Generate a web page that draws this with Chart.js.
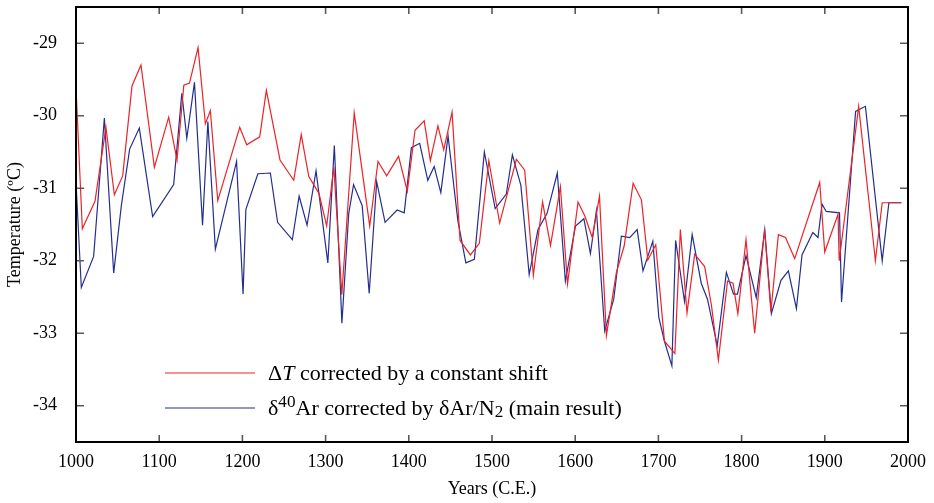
<!DOCTYPE html>
<html>
<head>
<meta charset="utf-8">
<script src="https://cdn.jsdelivr.net/npm/chart.js"></script>
<style>
  body { margin: 0; background: #fff; }
</style>
</head>
<body>
<canvas id="tempChart" width="934" height="503"></canvas>
<script>
// series (years C.E., temperature in ºC)
var redYears = [1000, 1007.6, 1022.8, 1036, 1046.1, 1056.1, 1067.3, 1078.1, 1094.2, 1111.4,
  1121.4, 1129.6, 1136.4, 1146.7, 1155.5, 1161.5, 1170.4, 1196.8, 1205.2, 1220.8,
  1228.8, 1245.2, 1261.7, 1270.7, 1279.8, 1292, 1301.3, 1309.9, 1319.5, 1334.4,
  1353, 1363, 1373.4, 1387.7, 1398.2, 1407.5, 1418.5, 1425.9, 1435, 1442,
  1452, 1461.6, 1474, 1484.8, 1496.2, 1509.2, 1529.3, 1539.3, 1549.7, 1560.8,
  1570.3, 1582.2, 1590.8, 1603.4, 1611.5, 1620.5, 1629.2, 1637.5, 1649.5, 1658.8,
  1669.6, 1679.6, 1687.3, 1696.8, 1707.3, 1719.8, 1726.4, 1734.4, 1743.6, 1755.6,
  1763.7, 1772.1, 1783.1, 1789.7, 1795.5, 1805.3, 1815.7, 1827.6, 1835.2, 1844.2,
  1852.8, 1863.8, 1893.9, 1899.9, 1915.9, 1917.3, 1940.7, 1960.8, 1969, 1991.2];
var redTemps = [-29.61, -31.56, -31.18, -30.16, -31.09, -30.83, -29.59, -29.30, -30.71, -30.02,
  -30.61, -29.58, -29.55, -29.06, -30.11, -29.93, -31.17, -30.16, -30.40, -30.29,
  -29.65, -30.61, -30.89, -30.26, -30.84, -31.07, -31.52, -30.71, -32.47, -29.96,
  -31.52, -30.63, -30.83, -30.56, -31.04, -30.20, -30.07, -30.62, -30.14, -30.47,
  -29.95, -31.72, -31.92, -31.76, -30.62, -31.48, -30.60, -30.75, -32.20, -31.19,
  -31.79, -30.98, -32.32, -31.19, -31.38, -31.68, -31.11, -33.03, -32.16, -31.80,
  -30.93, -31.16, -31.99, -31.78, -33.11, -33.28, -31.57, -32.72, -31.91, -32.08,
  -32.61, -33.37, -32.28, -32.31, -32.73, -31.71, -33.00, -31.57, -32.70, -31.64,
  -31.68, -31.97, -30.92, -31.88, -31.36, -32.00, -29.87, -32.00, -31.20, -31.20];

var blueYears = [1000, 1006.4, 1021.2, 1034.1, 1045.3, 1054.5, 1064.5, 1076.1, 1092.1, 1117.4,
  1127.2, 1133.2, 1142.4, 1152.1, 1158.5, 1167.5, 1193, 1200.8, 1204.2, 1218.6,
  1233.6, 1242.3, 1260, 1268.2, 1277.7, 1288.5, 1302.7, 1310.5, 1319.6, 1327.8,
  1333.6, 1344, 1352.4, 1361.4, 1371.5, 1386, 1394.5, 1403.1, 1413.1, 1422.8,
  1430.5, 1438.5, 1447.2, 1459, 1468.6, 1478.8, 1490.8, 1503.8, 1517.2, 1524.5,
  1534.7, 1544.7, 1555.3, 1566.1, 1578.5, 1588.2, 1600.4, 1610.4, 1618.3, 1625.5,
  1635.5, 1646.3, 1655.5, 1665.5, 1674.5, 1681.5, 1693.3, 1700.5, 1707, 1716.2,
  1720.7, 1731.4, 1740.6, 1751.5, 1759, 1770.7, 1781.7, 1790.3, 1795, 1805.3,
  1817.6, 1827.8, 1835.8, 1847.3, 1856.2, 1865.9, 1872.6, 1885.6, 1891.8, 1896.7,
  1901.7, 1917.7, 1920.1, 1937, 1948.8, 1969, 1977, 1992.3];
var blueTemps = [-30.92, -32.37, -31.94, -30.03, -32.17, -31.24, -30.46, -30.17, -31.39, -30.95,
  -29.69, -30.31, -29.54, -31.51, -30.08, -31.84, -30.63, -32.46, -31.29, -30.80,
  -30.79, -31.47, -31.71, -31.11, -31.51, -30.76, -32.03, -30.41, -32.86, -31.35,
  -30.95, -31.24, -32.45, -30.91, -31.47, -31.30, -31.34, -30.44, -30.38, -30.89,
  -30.70, -31.06, -30.28, -31.45, -32.03, -31.98, -30.50, -31.28, -31.08, -30.54,
  -30.96, -32.19, -31.57, -31.35, -30.79, -32.28, -31.52, -31.42, -31.90, -31.31,
  -32.97, -32.53, -31.66, -31.68, -31.57, -32.14, -31.73, -32.78, -33.10, -33.45,
  -31.72, -32.56, -31.64, -32.31, -32.53, -33.17, -32.16, -32.46, -32.46, -31.93,
  -32.51, -31.57, -32.73, -32.27, -32.14, -32.66, -31.92, -31.61, -31.68, -31.22,
  -31.32, -31.34, -32.57, -29.94, -29.87, -32.00, -31.20, -31.20];

var xTicks = [1000, 1100, 1200, 1300, 1400, 1500, 1600, 1700, 1800, 1900, 2000];
var yTicks = [-34, -33, -32, -31, -30, -29];

// legend text pieces (italic T, superscript 40, subscript 2)
var redLabelParts = [{ t: "Δ" }, { t: "T", italic: true }, { t: " corrected by a constant shift" }];
var blueLabelParts = [{ t: "δ" }, { t: "40", sup: true }, { t: "Ar corrected by δAr/N" }, { t: "2", sub: true }, { t: " (main result)" }];

var serif = "'Liberation Serif', 'Times New Roman', serif";

function toPoints(xs, ys) {
  return xs.map(function (x, i) { return { x: x, y: ys[i] }; });
}

// inward tick marks on all four sides plus the black frame
var frameTicks = {
  id: "frameTicks",
  afterDraw: function (chart) {
    var ctx = chart.ctx, a = chart.chartArea;
    var xs = chart.scales.x, ys = chart.scales.y;
    ctx.save();
    ctx.strokeStyle = "#5a5a5a";
    ctx.lineWidth = 1.6;
    ctx.beginPath();
    xs.ticks.forEach(function (t) {
      var px = xs.getPixelForValue(t.value);
      if (px <= a.left + 2 || px >= a.right - 2) return;
      ctx.moveTo(px, a.bottom); ctx.lineTo(px, a.bottom - 7);
      ctx.moveTo(px, a.top); ctx.lineTo(px, a.top + 7);
    });
    ys.ticks.forEach(function (t) {
      var py = ys.getPixelForValue(t.value);
      ctx.moveTo(a.left, py); ctx.lineTo(a.left + 8, py);
      ctx.moveTo(a.right, py); ctx.lineTo(a.right - 8, py);
    });
    ctx.stroke();
    ctx.strokeStyle = "#000";
    ctx.lineWidth = 2;
    ctx.strokeRect(a.left, a.top, a.right - a.left, a.bottom - a.top);
    ctx.restore();
  }
};

// legend drawn by hand so the labels can carry italic / super / subscripts
var richLegend = {
  id: "richLegend",
  afterDraw: function (chart) {
    var ctx = chart.ctx, a = chart.chartArea;
    var size = 22;
    chart.data.datasets.forEach(function (ds, i) {
      var yy = a.top + 366 + i * 35;
      ctx.save();
      ctx.strokeStyle = ds.borderColor;
      ctx.lineWidth = 1.2;
      ctx.beginPath();
      ctx.moveTo(a.left + 89, yy);
      ctx.lineTo(a.left + 179, yy);
      ctx.stroke();
      ctx.fillStyle = "#000";
      ctx.textBaseline = "alphabetic";
      var x = a.left + 192, base = yy + 7;
      ds.labelParts.forEach(function (p) {
        var fs = size, dy = 0;
        if (p.sup) { fs = size * 0.78; dy = -8; }
        if (p.sub) { fs = size * 0.78; dy = 2; }
        ctx.font = (p.italic ? "italic " : "") + fs + "px " + serif;
        ctx.fillText(p.t, x, base + dy);
        x += ctx.measureText(p.t).width;
      });
      ctx.restore();
    });
  }
};

new Chart(document.getElementById("tempChart"), {
  type: "line",
  data: {
    datasets: [
      {
        label: "ΔT corrected by a constant shift",
        labelParts: redLabelParts,
        data: toPoints(redYears, redTemps),
        borderColor: "rgb(238,34,38)",
        borderWidth: 1.2,
        pointRadius: 0,
        tension: 0,
        fill: false,
      },
      {
        label: "δ⁴⁰Ar corrected by δAr/N₂ (main result)",
        labelParts: blueLabelParts,
        data: toPoints(blueYears, blueTemps),
        borderColor: "rgb(36,46,142)",
        borderWidth: 1.2,
        pointRadius: 0,
        tension: 0,
        fill: false,
      },
    ],
  },
  options: {
    responsive: false,
    animation: false,
    devicePixelRatio: 1,
    layout: { padding: { top: 7, right: 26, left: 0, bottom: 0 } },
    plugins: {
      legend: { display: false },
      tooltip: { enabled: false },
    },
    scales: {
      x: {
        type: "linear",
        min: 1000,
        max: 2000,
        afterBuildTicks: function (s) { s.ticks = xTicks.map(function (v) { return { value: v }; }); },
        afterFit: function (s) { s.height = 61; s.paddingLeft = 0; s.paddingRight = 0; },
        grid: { display: false, drawTicks: false },
        border: { display: false },
        ticks: {
          color: "#000",
          padding: 9,
          maxRotation: 0,
          font: { family: serif, size: 18 },
          callback: function (v) { return String(v); },
        },
        title: {
          display: true,
          text: "Years (C.E.)",
          color: "#000",
          padding: { top: 0, bottom: 3 },
          font: { family: serif, size: 18 },
        },
      },
      y: {
        type: "linear",
        min: -34.5,
        max: -28.5,
        afterBuildTicks: function (s) { s.ticks = yTicks.map(function (v) { return { value: v }; }); },
        afterFit: function (s) { s.width = 76; s.paddingTop = 0; s.paddingBottom = 0; },
        grid: { display: false, drawTicks: false },
        border: { display: false },
        ticks: {
          color: "#000",
          padding: 19,
          font: { family: serif, size: 18 },
          callback: function (v) { return String(v); },
        },
        title: {
          display: true,
          text: "Temperature (ºC)",
          color: "#000",
          padding: { top: 4, bottom: 4 },
          font: { family: serif, size: 18 },
        },
      },
    },
  },
  plugins: [frameTicks, richLegend],
});
</script>
</body>
</html>
